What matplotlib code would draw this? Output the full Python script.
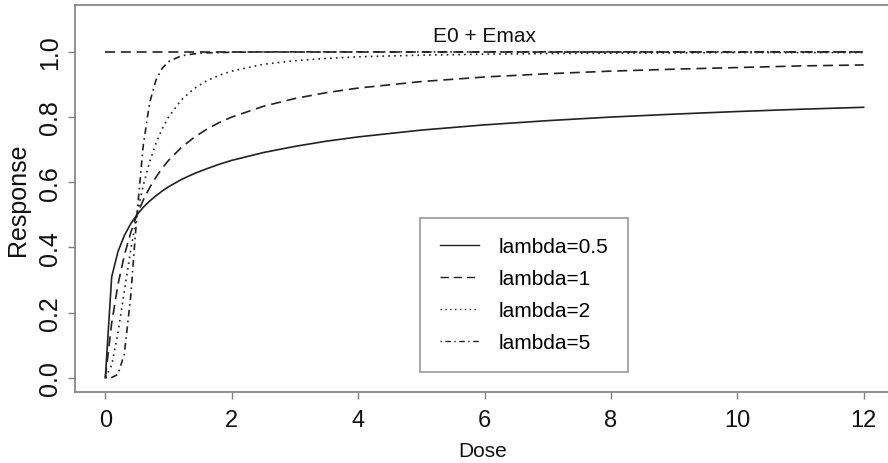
import matplotlib
matplotlib.use("Agg")
import matplotlib.pyplot as plt

# dose grid and responses
dose = [0, 0.1, 0.2, 0.3, 0.4, 0.5, 0.6, 0.7, 0.8, 0.9, 1.0, 1.2, 1.4, 1.6,
        1.8, 2.0, 2.5, 3, 3.5, 4, 5, 6, 7, 8, 9, 10, 11, 12]

resp_l05 = [0, 0.309, 0.387, 0.436, 0.472, 0.500, 0.523, 0.542, 0.558, 0.573,
            0.586, 0.608, 0.626, 0.641, 0.655, 0.667, 0.691, 0.710, 0.726,
            0.739, 0.760, 0.776, 0.789, 0.800, 0.809, 0.817, 0.824, 0.830]
resp_l1 = [0, 0.167, 0.286, 0.375, 0.444, 0.500, 0.545, 0.583, 0.615, 0.643,
           0.667, 0.706, 0.737, 0.762, 0.783, 0.800, 0.833, 0.857, 0.875,
           0.889, 0.909, 0.923, 0.933, 0.941, 0.947, 0.952, 0.957, 0.960]
resp_l2 = [0, 0.038, 0.138, 0.265, 0.390, 0.500, 0.590, 0.662, 0.719, 0.764,
           0.800, 0.852, 0.887, 0.911, 0.928, 0.941, 0.962, 0.973, 0.980,
           0.985, 0.990, 0.993, 0.995, 0.996, 0.997, 0.998, 0.998, 0.998]
resp_l5 = [0, 0.0003, 0.010, 0.072, 0.247, 0.500, 0.713, 0.843, 0.913, 0.950,
           0.970, 0.988, 0.994, 0.997, 0.998, 0.999, 1.0, 1.0, 1.0, 1.0, 1.0,
           1.0, 1.0, 1.0, 1.0, 1.0, 1.0, 1.0]

labels = ["lambda=0.5", "lambda=1", "lambda=2", "lambda=5"]
emax_dose = [0, 12]
emax_resp = [1.0, 1.0]

xticks = [0, 2, 4, 6, 8, 10, 12]
yticks = [0.0, 0.2, 0.4, 0.6, 0.8, 1.0]

plt.rcParams["font.family"] = ["Liberation Sans", "DejaVu Sans"]

W, H = 888, 464
fig = plt.figure(figsize=(W / 100, H / 100), dpi=100)
ax = fig.add_axes([75 / W, 1 - 393 / H, (894 - 75) / W, (393 - 6) / H])

ink = "#222222"
lw = 1.2
dash = (0, (6, 3.5))
styles = ["-", dash, (0, (1, 2.5)), (0, (1, 2.5, 4, 2.5))]
series = [resp_l05, resp_l1, resp_l2, resp_l5]
for ys, ls, lab in zip(series, styles, labels):
    ax.plot(dose, ys, color=ink, lw=lw, linestyle=ls, label=lab)

ax.plot(emax_dose, emax_resp, color=ink, lw=lw, linestyle=dash)
ax.text(6, 1.05, "E0 + Emax", ha="center", va="center", fontsize=15,
        color="#111111")

ax.set_xlim(-0.48, 12.48)
ax.set_ylim(-0.044, 1.144)
ax.set_xticks(xticks)
ax.set_xticklabels([str(t) for t in xticks])
ax.set_yticks(yticks)
ax.set_yticklabels(["%.1f" % t for t in yticks], fontsize=18, rotation=90,
                   va="center")

for s in ax.spines.values():
    s.set_color("#808080")
    s.set_linewidth(1.2)
ax.tick_params(axis="both", direction="out", length=5, width=1,
               color="#808080", labelcolor="#111111")
ax.tick_params(axis="x", labelsize=17, pad=7)
ax.tick_params(axis="y", pad=4.5)

fig.text(18 / W, 1 - 200 / H, "Response", rotation=90, ha="center",
         va="center", fontsize=18, color="#111111")
fig.text(483 / W, 1 - 452 / H, "Dose", ha="center", va="center",
         fontsize=15, color="#111111")

# legend box lower-left corner at pixel (420, 373)
x0 = (420 - 75) / (894 - 75)
y0 = (393 - 373) / (393 - 6)
leg = ax.legend(loc="lower left", bbox_to_anchor=(x0, y0), fontsize=15,
                frameon=True, fancybox=False, borderpad=0.95,
                handlelength=1.9, handletextpad=0.9, labelspacing=0.62,
                borderaxespad=0)
leg.get_frame().set_edgecolor("#808080")
leg.get_frame().set_linewidth(1.2)
for h in leg.get_lines():
    h.set_linewidth(1.0)

fig.savefig("out.png", dpi=100)
